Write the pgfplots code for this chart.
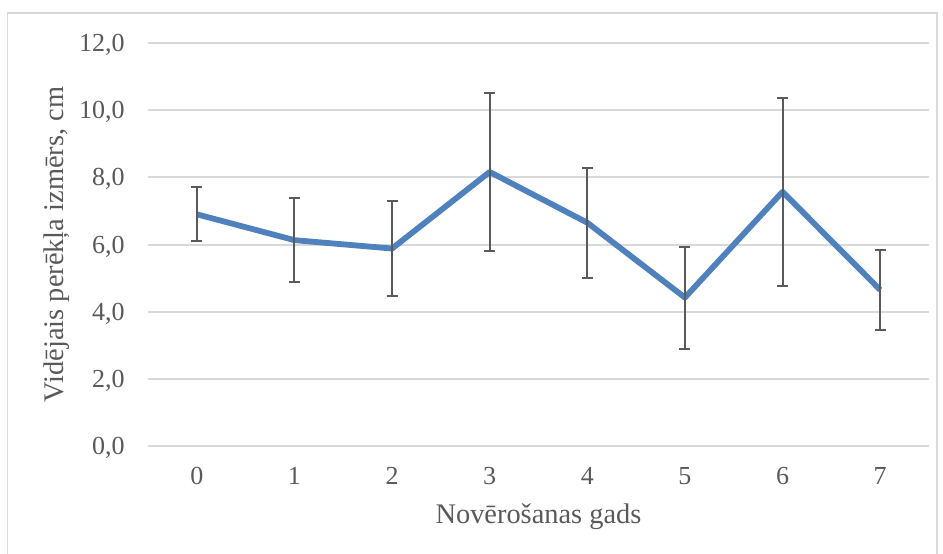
\documentclass[border=0pt]{standalone}
\usepackage{fontspec}
\setmainfont{Liberation Serif}
\usepackage{pgfplots}
\pgfplotsset{compat=1.18}
\usepackage{pgfplotstable}
\definecolor{linblue}{HTML}{4F81BD}
\definecolor{txtgray}{HTML}{595959}
\definecolor{gridgray}{HTML}{D9D9D9}
\definecolor{errgray}{HTML}{5A5A5A}

\pgfplotstableread{
x y e
0 6.90 0.80
1 6.13 1.26
2 5.88 1.41
3 8.16 2.35
4 6.65 1.64
5 4.42 1.52
6 7.57 2.80
7 4.65 1.20
}\datatable

\begin{document}
\begin{tikzpicture}
\useasboundingbox (0,0) rectangle (471.5pt,-276.5pt);
\draw[gridgray, line width=0.75pt] (3.7pt,-290pt) -- (3.7pt,-6.6pt) -- (468.6pt,-6.6pt) -- (468.6pt,-290pt);
\begin{axis}[
  at={(74pt,-223pt)}, anchor=south west,
  scale only axis,
  width=390.5pt, height=201.5pt,
  xmin=-0.5, xmax=7.5, ymin=0, ymax=12,
  axis line style={draw=none},
  major tick style={draw=none},
  ymajorgrids, grid style={gridgray, line width=1pt},
  xtick={0,1,2,3,4,5,6,7},
  xticklabels={0,1,2,3,4,5,6,7},
  ytick={0,2,4,6,8,10,12},
  yticklabels={{0,0},{2,0},{4,0},{6,0},{8,0},{10,0},{12,0}},
  /pgf/number format/assume math mode=true,
  ticklabel style={font=\fontsize{13pt}{15pt}\selectfont, text=txtgray},
  xticklabel style={anchor=center, inner sep=0pt, text depth=0pt, yshift=-15pt},
  yticklabel style={anchor=east, inner sep=0pt, text depth=0pt, xshift=-11.5pt},
  xlabel={Novērošanas gads},
  ylabel={Vidējais perēkļa izmērs, cm},
  every axis x label/.style={at={(axis description cs:0.5,0)}, anchor=base, inner sep=0pt, yshift=-38.5pt,
    font=\fontsize{14.2pt}{16pt}\selectfont, text=txtgray},
  every axis y label/.style={at={(axis description cs:-0.1165,0.5)}, rotate=90, anchor=center, inner sep=0pt,
    font=\fontsize{14.2pt}{16pt}\selectfont, text=txtgray},
  clip=false,
]
\addplot[linblue, line width=2.9pt, line join=round, mark=none,
  error bars/.cd, y dir=both, y explicit,
  error mark=|, error mark options={errgray, line width=1pt, mark size=2.75pt},
  error bar style={errgray, line width=1pt}]
  table[x=x, y=y, y error=e] {\datatable};
\end{axis}
\end{tikzpicture}
\end{document}
